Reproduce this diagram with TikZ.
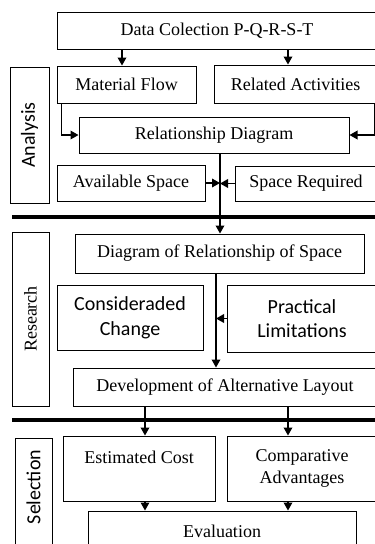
\documentclass[tikz,border=0pt]{standalone}
\usepackage{fontspec}
\setmainfont{Liberation Serif}
\setsansfont{Carlito}
\usetikzlibrary{arrows.meta}

\begin{document}
\begin{tikzpicture}[x=0.75pt, y=-0.75pt,
    box/.style={draw, line width=0.75pt, inner sep=0pt, align=center, font=\fontsize{13.5}{17}\selectfont},
    sbox/.style={box, font=\sffamily\fontsize{15}{18.5}\selectfont},
    tag/.style={draw, line width=0.75pt, inner sep=0pt},
    arr/.style={line width=1pt, -{Triangle[length=6pt, width=6.5pt]}},
    sep/.style={line width=2.6pt}]
    \clip (0,0) rectangle (375,544);
    % section tags
    \node[tag, minimum width=29.25pt, minimum height=102pt] (analysis) at (29.5,135) {};
    \node[rotate=90, font=\sffamily\fontsize{15}{18}\selectfont] (lblanalysis) at (analysis) {Analysis};
    \node[tag, minimum width=27.75pt, minimum height=130.5pt] (research) at (30.5,319) {};
    \node[rotate=90, font=\fontsize{13.5}{16}\selectfont] (lblresearch) at (research) {Research};
    \node[tag, minimum width=27.75pt, minimum height=84pt] (selection) at (33.5,494) {};
    \node[rotate=90, font=\sffamily\fontsize{15}{18}\selectfont] (lblselection) at (33.5,487) {Selection};
    % boxes
    \node[box, minimum width=240pt, minimum height=27.75pt] (data) at (217,30.5) {Data Colection P-Q-R-S-T};
    \node[box, minimum width=104.25pt, minimum height=27.75pt] (flow) at (126.5,84.5) {Material Flow};
    \node[box, minimum width=122.25pt, minimum height=28.5pt] (related) at (295.5,84) {Related Activities};
    \node[box, minimum width=202.5pt, minimum height=27pt] (reldiag) at (214,135) {Relationship Diagram};
    \node[box, minimum width=111pt, minimum height=27pt] (avail) at (131,183) {Available Space};
    \node[box, minimum width=106.5pt, minimum height=26.25pt] (required) at (306,183.5) {Space Required};
    \node[box, minimum width=216.75pt, minimum height=29.25pt] (relspace) at (219.5,253.5) {Diagram of Relationship of Space};
    \node[sbox, minimum width=109.5pt, minimum height=48.75pt] (change) at (130,317.5) {Consideraded\\Change};
    \node[sbox, minimum width=112.5pt, minimum height=50.25pt] (limits) at (302,318.5) {Practical\\Limitations};
    \node[box, minimum width=228pt, minimum height=28.5pt] (develop) at (225,387) {Development of Alternative Layout};
    \node[box, minimum width=114pt, minimum height=48.75pt] (cost) at (139,468.5) {Estimated Cost\\~};
    \node[box, minimum width=112.5pt, minimum height=48.75pt] (advant) at (302,468.5) {Comparative\\Advantages};
    \node[box, minimum width=201pt, minimum height=30pt] (evaluation) at (222,531) {Evaluation};
    % separators
    \draw[sep] (12,217) -- (377,217);
    \draw[sep] (12,420) -- (377,420);
    % connectors
    \coordinate (c1) at (122,0);
    \coordinate (c2) at (288,0);
    \coordinate (trunk) at (220,0);
    \coordinate (trunkb) at (216,0);
    \coordinate (colA) at (145,0);
    \coordinate (colB) at (288,0);
    \draw[arr] (data.south -| c1) -- (flow.north -| c1);
    \draw[arr] (data.south -| c2) -- (related.north -| c2);
    \draw[arr] ([xshift=3.75pt]flow.south west) |- (reldiag.west);
    \draw[arr] ([xshift=-2.25pt]related.south east) |- (reldiag.east);
    \draw[arr] (reldiag.south -| trunk) -- (relspace.north -| trunk);
    \draw[arr] (avail.east) -- (avail.east -| trunk);
    \draw[arr] (required.west) -- (required.west -| trunk);
    \draw[arr] (relspace.south -| trunkb) -- (develop.north -| trunkb);
    \draw[arr] (limits.west) -- (limits.west -| trunkb);
    \draw[arr] (develop.south -| colA) -- (cost.north -| colA);
    \draw[arr] (develop.south -| colB) -- (advant.north -| colB);
    \draw[arr] (cost.south -| colA) -- (evaluation.north -| colA);
    \draw[arr] (advant.south -| colB) -- (evaluation.north -| colB);
\end{tikzpicture}
\end{document}
